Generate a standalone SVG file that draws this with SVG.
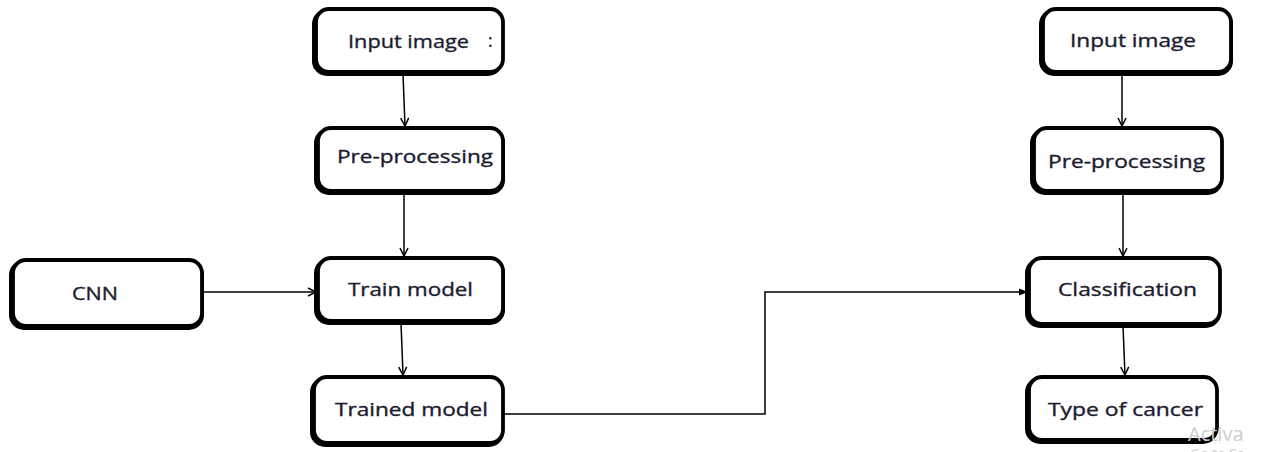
<svg xmlns="http://www.w3.org/2000/svg" width="1262" height="452" viewBox="0 0 1262 452">
  <style>
    .shadow { fill: none; stroke: #000; stroke-width: 4; }
    .box { fill: #fff; stroke: #000; stroke-width: 3.8; }
    .label { font-family: "Open Sans", "Liberation Sans", sans-serif; font-size: 17.5px; fill: #1c1c30; stroke: #1c1c30; stroke-width: 0.35; }
    .wire { fill: none; stroke: #000; stroke-width: 1.5; }
    .wm { font-family: "Open Sans", "Liberation Sans", sans-serif; fill: #cdcdcd; }
  </style>
  <defs>
    <marker id="open" viewBox="0 0 10 10" refX="9" refY="5" markerWidth="10" markerHeight="10" markerUnits="userSpaceOnUse" orient="auto">
      <path d="M1,1 L9,5 L1,9" fill="none" stroke="#000" stroke-width="1.5"/>
    </marker>
    <marker id="solid" viewBox="0 0 10 10" refX="9" refY="5" markerWidth="9" markerHeight="9" markerUnits="userSpaceOnUse" orient="auto">
      <path d="M0,1 L10,5 L0,9 Z" fill="#000"/>
    </marker>
  </defs>

  <!-- training pipeline -->
  <g id="input-image-train">
    <rect class="shadow" x="314" y="11" width="187" height="63" rx="13"/>
    <rect class="box" x="316" y="9" width="187" height="63" rx="13"/>
    <text class="label" x="348" y="48" textLength="121" lengthAdjust="spacingAndGlyphs">Input image</text>
    <text class="label" x="488" y="47" font-size="11" fill="#888" stroke="none">:</text>
  </g>
  <g id="preprocessing-train">
    <rect class="shadow" x="316" y="130" width="187" height="63" rx="13"/>
    <rect class="box" x="318" y="128" width="185" height="63" rx="13"/>
    <text class="label" x="337" y="163" textLength="156" lengthAdjust="spacingAndGlyphs">Pre-processing</text>
  </g>
  <g id="cnn">
    <rect class="shadow" x="11" y="262" width="191" height="66" rx="13"/>
    <rect class="box" x="13" y="260" width="189" height="66" rx="13"/>
    <text class="label" x="72" y="300" textLength="46" lengthAdjust="spacingAndGlyphs">CNN</text>
  </g>
  <g id="train-model">
    <rect class="shadow" x="316" y="260" width="187" height="63" rx="13"/>
    <rect class="box" x="318" y="258" width="185" height="63" rx="13"/>
    <text class="label" x="348" y="296" textLength="125" lengthAdjust="spacingAndGlyphs">Train model</text>
  </g>
  <g id="trained-model">
    <rect class="shadow" x="312" y="379" width="190" height="66" rx="13"/>
    <rect class="box" x="314" y="377" width="189" height="66" rx="13"/>
    <text class="label" x="335" y="416" textLength="153" lengthAdjust="spacingAndGlyphs">Trained model</text>
  </g>

  <!-- inference pipeline -->
  <g id="input-image-test">
    <rect class="shadow" x="1041" y="11" width="190" height="63" rx="13"/>
    <rect class="box" x="1043" y="9" width="188" height="63" rx="13"/>
    <text class="label" x="1070" y="47" textLength="126" lengthAdjust="spacingAndGlyphs">Input image</text>
  </g>
  <g id="preprocessing-test">
    <rect class="shadow" x="1032" y="130" width="189" height="63" rx="13"/>
    <rect class="box" x="1034" y="128" width="188" height="63" rx="13"/>
    <text class="label" x="1048" y="168" textLength="157" lengthAdjust="spacingAndGlyphs">Pre-processing</text>
  </g>
  <g id="classification">
    <rect class="shadow" x="1027" y="260" width="192" height="66" rx="13"/>
    <rect class="box" x="1029" y="258" width="191" height="66" rx="13"/>
    <text class="label" x="1058" y="296" textLength="139" lengthAdjust="spacingAndGlyphs">Classification</text>
  </g>
  <g id="type-of-cancer">
    <rect class="shadow" x="1027" y="379" width="189" height="63" rx="13"/>
    <rect class="box" x="1029" y="377" width="188" height="63" rx="13"/>
    <text class="label" x="1048" y="416" textLength="155" lengthAdjust="spacingAndGlyphs">Type of cancer</text>
  </g>

  <g id="connectors">
    <line class="wire" x1="403" y1="74" x2="405" y2="126" marker-end="url(#open)"/>
    <line class="wire" x1="404" y1="193" x2="404" y2="256" marker-end="url(#open)"/>
    <line class="wire" x1="202" y1="292" x2="316" y2="292" stroke="#444" marker-end="url(#open)"/>
    <line class="wire" x1="401" y1="323" x2="403" y2="375" marker-end="url(#open)"/>
    <polyline class="wire" points="503,414 765,414 765,292 1027,292" marker-end="url(#solid)"/>
    <line class="wire" x1="1122" y1="74" x2="1122" y2="126" marker-end="url(#open)"/>
    <line class="wire" x1="1123" y1="193" x2="1123" y2="256" marker-end="url(#open)"/>
    <line class="wire" x1="1123" y1="326" x2="1125" y2="375" marker-end="url(#open)"/>
  </g>

  <text class="wm" x="1188" y="441" font-size="20">Activa</text>
  <text class="wm" x="1190" y="459" font-size="14">Go to Se</text>
</svg>
